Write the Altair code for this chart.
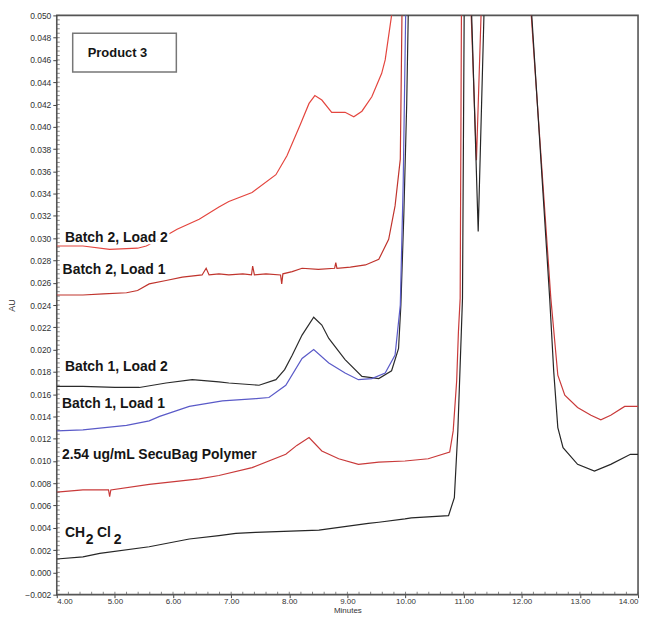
import altair as alt
import pandas as pd

# ---------------- data (minutes, AU) ----------------
series = ["Batch 2, Load 2", "Batch 2, Load 1", "Batch 1, Load 2", "Batch 1, Load 1",
          "2.54 ug/mL SecuBag Polymer", "CH2Cl2"]
colors = ["#e4463f", "#c0342d", "#2b2b2b", "#5a5ac8", "#c93a3a", "#262626"]

b2l2_t = [4.00, 4.45, 4.91, 5.39, 5.54, 5.80, 6.07, 6.45, 6.79, 6.96, 7.36, 7.77, 7.96,
          8.19, 8.34, 8.44, 8.56, 8.73, 8.96, 9.11, 9.25, 9.42, 9.59, 9.65, 9.76, 9.82]
b2l2_v = [0.0293, 0.0293, 0.0290, 0.0291, 0.0293, 0.0300, 0.0308, 0.0317, 0.0328, 0.0333,
          0.0341, 0.0357, 0.0374, 0.0402, 0.0421, 0.0428, 0.0424, 0.0413, 0.0413, 0.0409,
          0.0414, 0.0427, 0.0448, 0.0460, 0.0500, 0.0600]

b2l1_t = [4.00, 4.45, 4.80, 5.20, 5.39, 5.59, 5.88, 6.16, 6.50, 6.57, 6.62, 6.79, 6.96,
          7.20, 7.35, 7.37, 7.40, 7.60, 7.85, 7.87, 7.89, 8.05, 8.22, 8.50, 8.78, 8.80,
          8.82, 9.05, 9.31, 9.54, 9.71, 9.82, 9.91, 9.93, 9.96]
b2l1_v = [0.0249, 0.0249, 0.0250, 0.0251, 0.0253, 0.0259, 0.0262, 0.0265, 0.0267, 0.0273,
          0.0267, 0.0268, 0.0267, 0.0268, 0.0267, 0.0275, 0.0267, 0.0268, 0.0267, 0.0259,
          0.0268, 0.0270, 0.0273, 0.0272, 0.0273, 0.0278, 0.0273, 0.0274, 0.0276, 0.0281,
          0.0299, 0.0329, 0.0371, 0.0460, 0.0600]

b1l2_t = [4.00, 4.45, 5.00, 5.42, 5.88, 6.33, 6.79, 6.96, 7.48, 7.77, 7.92, 8.05, 8.22,
          8.42, 8.56, 8.68, 8.96, 9.25, 9.54, 9.76, 9.88, 9.92, 9.97, 10.02, 10.08]
b1l2_v = [0.0167, 0.0167, 0.0166, 0.0166, 0.0170, 0.0173, 0.0171, 0.0170, 0.0168, 0.0173,
          0.0182, 0.0195, 0.0213, 0.0229, 0.0222, 0.0210, 0.0191, 0.0176, 0.0174, 0.0181,
          0.0201, 0.0240, 0.0320, 0.0420, 0.0600]

b1l1_t = [4.00, 4.45, 5.20, 5.59, 5.77, 6.28, 6.85, 7.43, 7.65, 7.94, 8.22, 8.42, 8.68,
          8.96, 9.19, 9.42, 9.65, 9.82, 9.91, 9.96, 10.03]
b1l1_v = [0.0127, 0.0128, 0.0132, 0.0136, 0.0140, 0.0149, 0.0154, 0.0156, 0.0157, 0.0168,
          0.0192, 0.0200, 0.0188, 0.0179, 0.0173, 0.0174, 0.0179, 0.0195, 0.0240, 0.0350,
          0.0600]

p254_t = [4.00, 4.45, 4.89, 4.91, 4.93, 5.59, 6.45, 6.79, 7.36, 7.94, 8.13, 8.34, 8.56,
          8.85, 9.19, 9.54, 9.99, 10.39, 10.76, 10.82, 10.88, 10.91, 10.94, 10.97, 11.06,
          11.22, 11.36, 12.03, 12.50, 12.62, 12.74, 12.96, 13.19, 13.36, 13.53, 13.77, 14.00]
p254_v = [0.0072, 0.0074, 0.0074, 0.0068, 0.0074, 0.0079, 0.0084, 0.0087, 0.0094, 0.0106,
          0.0114, 0.0121, 0.0109, 0.0102, 0.0097, 0.0099, 0.0100, 0.0102, 0.0108, 0.0127,
          0.0172, 0.0216, 0.0246, 0.0600, 0.0600, 0.0370, 0.0600, 0.0600, 0.0246, 0.0177,
          0.0159, 0.0148, 0.0141, 0.0137, 0.0141, 0.0149, 0.0149]

ch2_t = [4.00, 4.45, 4.74, 5.59, 6.28, 6.79, 7.08, 7.42, 8.51, 9.36, 9.54, 9.99, 10.10,
         10.74, 10.84, 10.90, 10.96, 10.98, 11.02, 11.08, 11.25, 11.40, 12.05, 12.48, 12.55,
         12.62, 12.71, 12.96, 13.25, 13.53, 13.87, 14.00]
ch2_v = [0.0012, 0.0014, 0.0017, 0.0023, 0.0030, 0.0033, 0.0035, 0.0036, 0.0038, 0.0044,
         0.0045, 0.0048, 0.0049, 0.0051, 0.0067, 0.0127, 0.0216, 0.0246, 0.0600, 0.0600,
         0.0306, 0.0600, 0.0600, 0.0246, 0.0180, 0.0130, 0.0112, 0.0097, 0.0091, 0.0097,
         0.0106, 0.0106]

x_ticks = [4, 5, 6, 7, 8, 9, 10, 11, 12, 13, 14]
y_ticks = [-0.002, 0.000, 0.002, 0.004, 0.006, 0.008, 0.010, 0.012, 0.014, 0.016, 0.018,
           0.020, 0.022, 0.024, 0.026, 0.028, 0.030, 0.032, 0.034, 0.036, 0.038, 0.040,
           0.042, 0.044, 0.046, 0.048, 0.050]
x_minor = [round(4 + 0.2 * i, 2) for i in range(51)]
y_minor = [round(-0.002 + 0.0004 * i, 4) for i in range(131)]

label_text = ["Batch 2, Load 2", "Batch 2, Load 1", "Batch 1, Load 2", "Batch 1, Load 1",
              "2.54 ug/mL SecuBag Polymer", "CH", "Cl"]
label_t = [4.14, 4.10, 4.14, 4.09, 4.09, 4.14, 4.69]
label_v = [0.0300, 0.0271, 0.0184, 0.0151, 0.0105, 0.0035, 0.0035]
sub_text = ["2", "2"]
sub_t = [4.50, 4.98]
sub_v = [0.0029, 0.0029]

box_x = [4.274]
box_x2 = [6.057]
box_y = [0.04839]
box_y2 = [0.04492]
title_text = ["Product 3"]
title_t = [5.045]
title_v = [0.0466]

# ---------------- build tables ----------------
traces = [(series[0], b2l2_t, b2l2_v), (series[1], b2l1_t, b2l1_v),
          (series[2], b1l2_t, b1l2_v), (series[3], b1l1_t, b1l1_v),
          (series[4], p254_t, p254_v), (series[5], ch2_t, ch2_v)]
rows = []
for name, ts, vs in traces:
    for t, v in zip(ts, vs):
        rows.append({"series": name, "t": t, "v": v})
df = pd.DataFrame(rows)

lab_df = pd.DataFrame({"label": label_text, "t": label_t, "v": label_v})
sub_df = pd.DataFrame({"label": sub_text, "t": sub_t, "v": sub_v})
box_df = pd.DataFrame({"x": box_x, "x2": box_x2, "y": box_y, "y2": box_y2})
ttl_df = pd.DataFrame({"label": title_text, "t": title_t, "v": title_v})
xm_df = pd.DataFrame({"t": x_minor})
ym_df = pd.DataFrame({"v": y_minor})

FONT = "Liberation Sans"
W, H = 584, 582
xs = alt.Scale(domain=[4, 14], nice=False, zero=False)
ys = alt.Scale(domain=[-0.002, 0.050], nice=False, zero=False)

lines = alt.Chart(df).mark_line(clip=True, strokeWidth=1.2).encode(
    x=alt.X("t:Q", scale=xs, axis=alt.Axis(values=x_ticks, format=".2f", title="Minutes",
                                           grid=False, domain=False, tickSize=3, labelPadding=0,
                                           labelFontSize=8, labelColor="#333", tickColor="#444",
                                           titleFontSize=8, titleFontWeight="normal",
                                           titleColor="#333", titleBaseline="top", titleY=12,
                                           labelFont=FONT, titleFont=FONT)),
    y=alt.Y("v:Q", scale=ys, axis=alt.Axis(values=y_ticks, format=".3f", title="AU",
                                           grid=False, domain=False, tickSize=4, labelPadding=2,
                                           labelFontSize=8.5, labelColor="#333", tickColor="#444",
                                           titleFontSize=9, titleFontWeight="normal",
                                           titleColor="#333", titlePadding=8, labelFont=FONT,
                                           titleFont=FONT)),
    color=alt.Color("series:N", scale=alt.Scale(domain=series, range=colors), legend=None),
    detail="series:N",
)

# inward minor ticks along the left and bottom frame
ymin = alt.Chart(ym_df).mark_tick(orient="horizontal", size=3, thickness=1, color="#555").encode(
    y=alt.Y("v:Q", scale=ys, axis=None), x=alt.value(1.5))
xmin = alt.Chart(xm_df).mark_tick(orient="vertical", size=3, thickness=1, color="#555").encode(
    x=alt.X("t:Q", scale=xs, axis=None), y=alt.value(H - 1.5))

halo = alt.Chart(lab_df).mark_text(align="left", baseline="middle", font=FONT, fontSize=14,
                                   fontWeight="bold", fill="white", stroke="white",
                                   strokeWidth=5).encode(
    x=alt.X("t:Q", scale=xs, axis=None), y=alt.Y("v:Q", scale=ys, axis=None), text="label:N")
labels = alt.Chart(lab_df).mark_text(align="left", baseline="middle", font=FONT, fontSize=14,
                                     fontWeight="bold", color="#151515").encode(
    x=alt.X("t:Q", scale=xs, axis=None), y=alt.Y("v:Q", scale=ys, axis=None), text="label:N")
subs = alt.Chart(sub_df).mark_text(align="left", baseline="middle", font=FONT, fontSize=14,
                                   fontWeight="bold", color="#151515").encode(
    x=alt.X("t:Q", scale=xs, axis=None), y=alt.Y("v:Q", scale=ys, axis=None), text="label:N")

box = alt.Chart(box_df).mark_rect(fill="white", stroke="#777", strokeWidth=1.5).encode(
    x=alt.X("x:Q", scale=xs, axis=None), x2="x2:Q",
    y=alt.Y("y:Q", scale=ys, axis=None), y2="y2:Q")
ttl = alt.Chart(ttl_df).mark_text(align="center", baseline="middle", font=FONT, fontSize=13,
                                  fontWeight="bold", color="#151515").encode(
    x=alt.X("t:Q", scale=xs, axis=None), y=alt.Y("v:Q", scale=ys, axis=None), text="label:N")

chart = alt.layer(lines, ymin, xmin, halo, labels, subs, box, ttl).resolve_axis(
    x="independent", y="independent"
).properties(
    width=W, height=H,
    autosize=alt.AutoSizeParams(type="none"),
    padding={"left": 49, "top": 6, "right": 8, "bottom": 20},
).configure_view(stroke="#555", strokeWidth=1.6)

chart.save("out.html", embed_options={"renderer": "svg", "actions": False})
